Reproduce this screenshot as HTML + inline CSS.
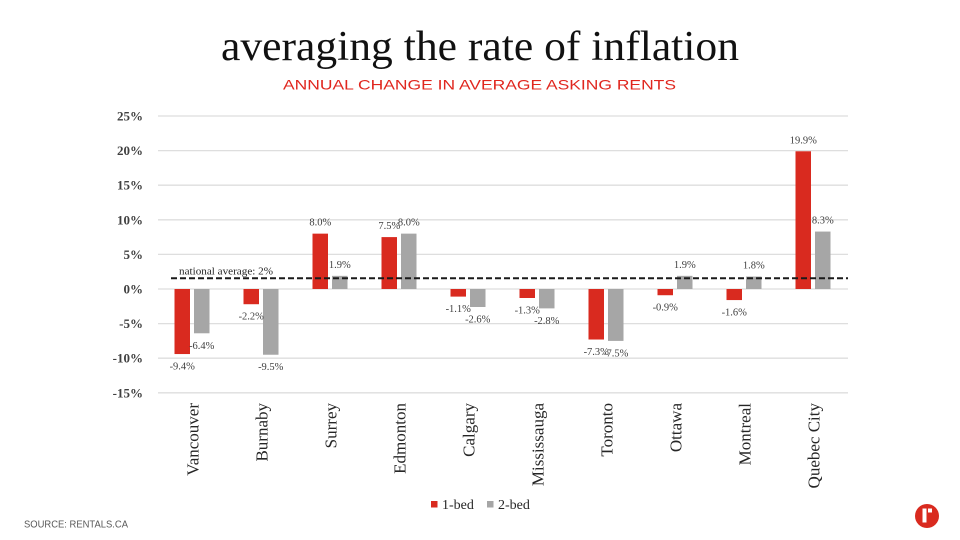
<!DOCTYPE html>
<html>
<head>
<meta charset="utf-8">
<style>
  html,body{margin:0;padding:0;background:#fff;}
  svg{display:block;}
</style>
</head>
<body>
<svg width="960" height="540" viewBox="0 0 960 540" xmlns="http://www.w3.org/2000/svg">
  <rect width="960" height="540" fill="#ffffff"/>

  <!-- Title -->
  <text x="221" y="60" font-family="Liberation Serif, serif" font-size="42" fill="#111" textLength="518" lengthAdjust="spacingAndGlyphs">averaging the rate of inflation</text>
  <text x="283" y="89.5" font-family="Liberation Sans, sans-serif" font-size="14" fill="#e0261e" textLength="393" lengthAdjust="spacingAndGlyphs">ANNUAL CHANGE IN AVERAGE ASKING RENTS</text>

  <!-- Gridlines -->
  <g stroke="#dedede" stroke-width="1.3">
    <line x1="158" y1="116" x2="848" y2="116"/>
    <line x1="158" y1="150.6" x2="848" y2="150.6"/>
    <line x1="158" y1="185.2" x2="848" y2="185.2"/>
    <line x1="158" y1="219.8" x2="848" y2="219.8"/>
    <line x1="158" y1="254.4" x2="848" y2="254.4"/>
    <line x1="158" y1="289" x2="848" y2="289"/>
    <line x1="158" y1="323.6" x2="848" y2="323.6"/>
    <line x1="158" y1="358.2" x2="848" y2="358.2"/>
    <line x1="158" y1="392.8" x2="848" y2="392.8"/>
  </g>

  <!-- Y tick labels -->
  <g font-family="Liberation Serif, serif" font-size="13" font-weight="bold" fill="#404040" text-anchor="end">
    <text x="143" y="120.5">25%</text>
    <text x="143" y="155.1">20%</text>
    <text x="143" y="189.7">15%</text>
    <text x="143" y="224.3">10%</text>
    <text x="143" y="258.9">5%</text>
    <text x="143" y="293.5">0%</text>
    <text x="143" y="328.1">-5%</text>
    <text x="143" y="362.7">-10%</text>
    <text x="143" y="397.3">-15%</text>
  </g>

  <!-- Bars: red (1-bed) -->
  <g fill="#d92a1f">
    <rect x="174.5" y="289" width="15.5" height="65.05"/>
    <rect x="243.5" y="289" width="15.5" height="15.22"/>
    <rect x="312.5" y="233.64" width="15.5" height="55.36"/>
    <rect x="381.5" y="237.1" width="15.5" height="51.9"/>
    <rect x="450.5" y="289" width="15.5" height="7.61"/>
    <rect x="519.5" y="289" width="15.5" height="9.0"/>
    <rect x="588.5" y="289" width="15.5" height="50.52"/>
    <rect x="657.5" y="289" width="15.5" height="6.23"/>
    <rect x="726.5" y="289" width="15.5" height="11.07"/>
    <rect x="795.5" y="151.29" width="15.5" height="137.71"/>
  </g>
  <!-- Bars: gray (2-bed) -->
  <g fill="#a6a6a6">
    <rect x="194" y="289" width="15.5" height="44.29"/>
    <rect x="263" y="289" width="15.5" height="65.74"/>
    <rect x="332" y="275.85" width="15.5" height="13.15"/>
    <rect x="401" y="233.64" width="15.5" height="55.36"/>
    <rect x="470" y="289" width="15.5" height="17.99"/>
    <rect x="539" y="289" width="15.5" height="19.38"/>
    <rect x="608" y="289" width="15.5" height="51.9"/>
    <rect x="677" y="275.85" width="15.5" height="13.15"/>
    <rect x="746" y="276.54" width="15.5" height="12.46"/>
    <rect x="815" y="231.56" width="15.5" height="57.44"/>
  </g>

  <!-- National average dashed line -->
  <line x1="171" y1="278.2" x2="848" y2="278.2" stroke="#1a1a1a" stroke-width="2" stroke-dasharray="6,3"/>
  <text x="179" y="274.5" font-family="Liberation Serif, serif" font-size="11" fill="#262626" textLength="94" lengthAdjust="spacingAndGlyphs">national average: 2%</text>

  <!-- Data labels -->
  <g font-family="Liberation Serif, serif" font-size="10.5" fill="#404040" text-anchor="middle">
    <text x="201.75" y="348.8">-6.4%</text>
    <text x="182.25" y="369.6">-9.4%</text>
    <text x="251.25" y="319.7">-2.2%</text>
    <text x="270.75" y="370.2">-9.5%</text>
    <text x="320.25" y="225.6">8.0%</text>
    <text x="339.75" y="267.85">1.9%</text>
    <text x="389.25" y="229.1">7.5%</text>
    <text x="408.75" y="225.6">8.0%</text>
    <text x="458.25" y="312.1">-1.1%</text>
    <text x="477.75" y="322.5">-2.6%</text>
    <text x="527.25" y="313.5">-1.3%</text>
    <text x="546.75" y="323.9">-2.8%</text>
    <text x="615.75" y="356.4">-7.5%</text>
    <text x="596.25" y="355">-7.3%</text>
    <text x="665.25" y="310.7">-0.9%</text>
    <text x="684.75" y="267.85">1.9%</text>
    <text x="734.25" y="315.6">-1.6%</text>
    <text x="753.75" y="268.5">1.8%</text>
    <text x="803.25" y="143.3">19.9%</text>
    <text x="822.75" y="223.6">8.3%</text>
  </g>

  <!-- Category labels -->
  <g font-family="Liberation Serif, serif" font-size="17" fill="#262626" text-anchor="end">
    <text transform="translate(198.5,403) rotate(-90)">Vancouver</text>
    <text transform="translate(267.5,403) rotate(-90)">Burnaby</text>
    <text transform="translate(336.5,403) rotate(-90)">Surrey</text>
    <text transform="translate(405.5,403) rotate(-90)">Edmonton</text>
    <text transform="translate(474.5,403) rotate(-90)">Calgary</text>
    <text transform="translate(543.5,403) rotate(-90)">Mississauga</text>
    <text transform="translate(612.5,403) rotate(-90)">Toronto</text>
    <text transform="translate(681.5,403) rotate(-90)">Ottawa</text>
    <text transform="translate(750.5,403) rotate(-90)">Montreal</text>
    <text transform="translate(819.5,403) rotate(-90)">Quebec City</text>
  </g>

  <!-- Legend -->
  <rect x="431" y="501" width="6.5" height="6.5" fill="#d92a1f"/>
  <text x="442" y="509" font-family="Liberation Serif, serif" font-size="14" fill="#262626">1-bed</text>
  <rect x="487" y="501" width="6.5" height="6.5" fill="#a6a6a6"/>
  <text x="498" y="509" font-family="Liberation Serif, serif" font-size="14" fill="#262626">2-bed</text>

  <!-- Source -->
  <text x="24" y="527.5" font-family="Liberation Sans, sans-serif" font-size="10" fill="#595959" textLength="104" lengthAdjust="spacingAndGlyphs">SOURCE: RENTALS.CA</text>

  <!-- Logo -->
  <circle cx="927" cy="516" r="12" fill="#d92a1f"/>
  <rect x="922.5" y="508.5" width="4" height="14" fill="#ffffff"/>
  <rect x="928" y="508.5" width="4" height="4" fill="#ffffff"/>
</svg>
</body>
</html>
